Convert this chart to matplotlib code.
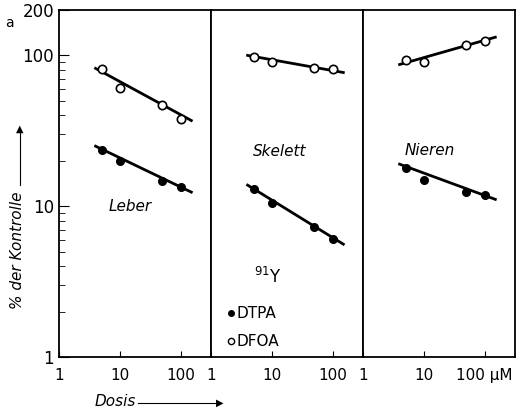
import matplotlib.pyplot as plt
from matplotlib.ticker import FixedLocator, NullFormatter

plt.rcParams['font.family'] = ['DejaVu Sans']

dosis = [5, 10, 50, 100]
organe = ["Leber", "Skelett", "Nieren"]

# DFOA (offen) und DTPA (gefuellt), % der Kontrolle
dfoa = {"Leber": [81, 61, 47, 38],
        "Skelett": [98, 90, 82, 81],
        "Nieren": [93, 90, 118, 124]}
dtpa = {"Leber": [23.5, 20, 14.6, 13.4],
        "Skelett": [13, 10.5, 7.3, 6.1],
        "Nieren": [18, 15, 12.4, 11.8]}

# Ausgleichsgeraden (Anfang, Ende)
linie_x = [4, 150]
dfoa_linie = {"Leber": [82, 37], "Skelett": [100, 77], "Nieren": [87, 132]}
dtpa_linie = {"Leber": [25, 12.4], "Skelett": [13.8, 5.6], "Nieren": [19, 11.1]}

text_pos = {"Leber": (6.5, 9.3), "Skelett": (4.8, 21.5), "Nieren": (4.8, 22)}

fig = plt.figure(figsize=(5.25, 4.16), dpi=100)
breite = 152 / 525
for i, org in enumerate(organe):
    ax = fig.add_axes([59 / 525 + i * breite, 1 - 357 / 416, breite, 347 / 416])
    ax.set_xscale("log")
    ax.set_yscale("log")
    ax.set_xlim(1, 316)
    ax.set_ylim(1, 200)
    ax.plot(linie_x, dfoa_linie[org], color="black", lw=2, zorder=2)
    ax.plot(linie_x, dtpa_linie[org], color="black", lw=2, zorder=2)
    ax.plot(dosis, dfoa[org], "o", mfc="white", mec="black", ms=6, mew=1.2, zorder=3)
    ax.plot(dosis, dtpa[org], "o", color="black", ms=5.5, zorder=3)
    ax.text(*text_pos[org], org, style="italic", fontsize=11)
    ax.xaxis.set_major_locator(FixedLocator([1, 10, 100]))
    ax.xaxis.set_minor_locator(FixedLocator([]))
    ax.set_xticklabels(["1", "10", "100 \u00b5M" if i == 2 else "100"], fontsize=11)
    ax.tick_params(axis="x", direction="in", length=4, pad=8)
    for s in ax.spines.values():
        s.set_linewidth(1.3)
    if i == 0:
        ax.yaxis.set_major_locator(FixedLocator([1, 10, 100, 200]))
        ax.set_yticklabels(["1", "10", "100", "200"], fontsize=12)
        ax.yaxis.set_minor_formatter(NullFormatter())
        ax.tick_params(axis="y", which="major", direction="in", length=7)
        ax.tick_params(axis="y", which="minor", direction="in", length=4)
    else:
        ax.yaxis.set_major_locator(FixedLocator([]))
        ax.yaxis.set_minor_locator(FixedLocator([]))
    if i == 1:
        ax.text(5, 3.1, "$^{91}$Y", fontsize=12)
        ax.plot([2.1], [1.95], "o", color="black", ms=4)
        ax.plot([2.1], [1.27], "o", mfc="white", mec="black", ms=4.5)
        ax.text(2.6, 1.95, "DTPA", fontsize=11, va="center")
        ax.text(2.6, 1.27, "DFOA", fontsize=11, va="center")

fig.text(5 / 525, 1 - 27 / 416, "a", fontsize=10)
fig.text(18 / 525, 1 - 250 / 416, "% der Kontrolle", rotation=90, style="italic",
         fontsize=11, ha="center", va="center")
fig.add_artist(plt.Line2D([20 / 525] * 2, [1 - 185 / 416, 1 - 133 / 416], color="black", lw=0.8))
fig.text(20 / 525, 1 - 129 / 416, "\u25b2", fontsize=7, ha="center", va="center")
fig.text(95 / 525, 1 - 402 / 416, "Dosis", style="italic", fontsize=11, va="center")
fig.add_artist(plt.Line2D([138 / 525, 218 / 525], [1 - 403 / 416] * 2, color="black", lw=0.8))
fig.text(220 / 525, 1 - 403 / 416, "\u25b6", fontsize=7, ha="center", va="center")

fig.savefig("out.png", dpi=100)
